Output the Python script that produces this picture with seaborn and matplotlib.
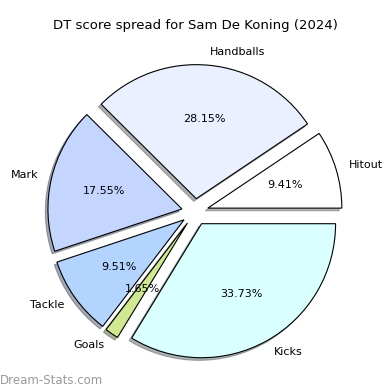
import matplotlib
matplotlib.use("Agg")
import matplotlib.pyplot as plt
import seaborn as sns

labels = ["Hitout", "Handballs", "Mark", "Tackle", "Goals", "Kicks"]
values = [9.41, 28.15, 17.55, 9.51, 1.65, 33.73]
colors = ["#ffffff", "#eaf0ff", "#c4d6ff", "#b3d4ff", "#d0e890", "#d9ffff"]
explode = [0.1] * len(values)

sns.set_style("white")
plt.rcParams["font.family"] = ["DejaVu Sans"]

fig = plt.figure(figsize=(3.9, 3.9), dpi=100)
ax = fig.add_axes([0, 0, 1, 1])
ax.pie(values, labels=labels, colors=colors, explode=explode, autopct="%1.2f%%",
       shadow={"ox": -0.014, "oy": -0.014, "shade": 0.6}, startangle=0,
       wedgeprops={"edgecolor": "black", "linewidth": 0.8},
       textprops={"fontsize": 8, "color": "black"})
ax.set_xlim(-1.455, 1.455)
ax.set_ylim(-1.328, 1.582)
ax.set_aspect("auto")
ax.axis("off")
fig.text(0.5, 0.935, "DT score spread for Sam De Koning (2024)", fontsize=9.5,
         ha="center", va="center", color="black")
fig.text(0.0, 0.015, "Dream-Stats.com", fontsize=8.5, color="gray", alpha=0.8)
fig.savefig("out.png", dpi=100)
